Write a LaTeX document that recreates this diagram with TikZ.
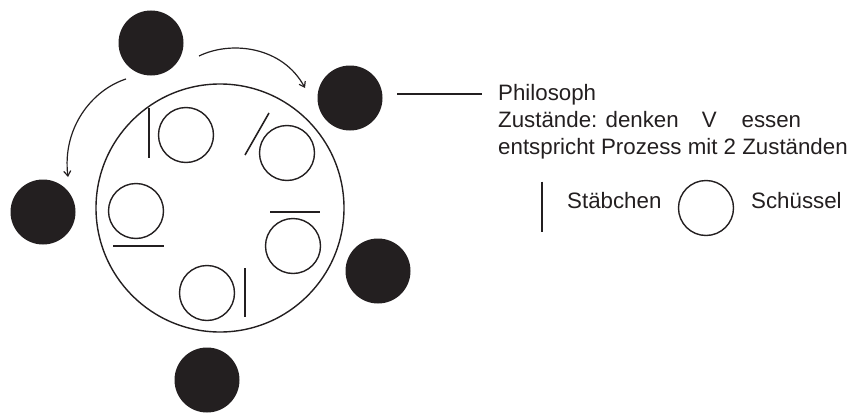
\documentclass[tikz,border=0pt]{standalone}
\usepackage{fontspec}
\setmainfont{Liberation Sans}
\usetikzlibrary{arrows.meta}
\definecolor{ink}{HTML}{231F20}
\begin{document}
\begin{tikzpicture}[x=1pt,y=-1pt,
  phil/.style={circle,fill=ink,draw=none,minimum size=65pt,inner sep=0pt},
  bowl/.style={circle,draw=ink,line width=1.4pt,minimum size=55pt,inner sep=0pt},
  stick/.style={draw=ink,line width=1.6pt},
  txt/.style={anchor=base west,inner sep=0pt,text=ink,font=\fontsize{22.3}{26.7}\selectfont},
  arr/.style={draw=ink,line width=1.2pt,-{Straight Barb[length=5pt,width=7pt]}}]
\useasboundingbox (0,0) rectangle (853,412);
% table
\node[circle,draw=ink,line width=1.4pt,minimum size=248pt,inner sep=0pt] (table) at (220,208) {};
% philosophers
\node[phil] (p1) at (151,43) {};
\node[phil] (p2) at (350,98) {};
\node[phil] (p3) at (43,212) {};
\node[phil] (p4) at (378,271) {};
\node[phil] (p5) at (207,380) {};
% bowls
\node[bowl] (b1) at (186,135) {};
\node[bowl] (b2) at (287,153) {};
\node[bowl] (b3) at (136,211) {};
\node[bowl] (b4) at (293,246) {};
\node[bowl] (b5) at (207,293) {};
% chopsticks
\draw[stick] (149,108) -- (149,158);
\draw[stick] (269,113) -- (245,155);
\draw[stick] (113,246) -- (164,246);
\draw[stick] (270,212) -- (320,212);
\draw[stick] (245,268) -- (245,317);
% arrows
\coordinate (a1s) at (199,56);
\coordinate (a1e) at (305,88);
\coordinate (a2s) at (126,79);
\coordinate (a2e) at (68,177);
\draw[arr] (a1s) .. controls (232,40) and (283,47) .. (a1e);
\draw[arr] (a2s) .. controls (92,90) and (62,128) .. (a2e);
% label line
\coordinate (ls) at (397,94);
\coordinate (le) at (482,94);
\draw[stick,line width=1.4pt] (ls) -- (le);
% text
\node[txt] (t1) at (498,100.7) {Philosoph};
\node[txt] (t2) at (498,127.5) {Zustände: denken\hspace{23pt}V\hspace{25pt}essen};
\node[txt] (t3) at (498,154.2) {entspricht Prozess mit 2 Zuständen};
% legend
\draw[stick] (541.7,181.7) -- (541.7,231.7);
\node[txt] (l1) at (567,208) {Stäbchen};
\node[bowl] (lb) at (706,208) {};
\node[txt] (l2) at (751,208) {Schüssel};
\end{tikzpicture}
\end{document}
